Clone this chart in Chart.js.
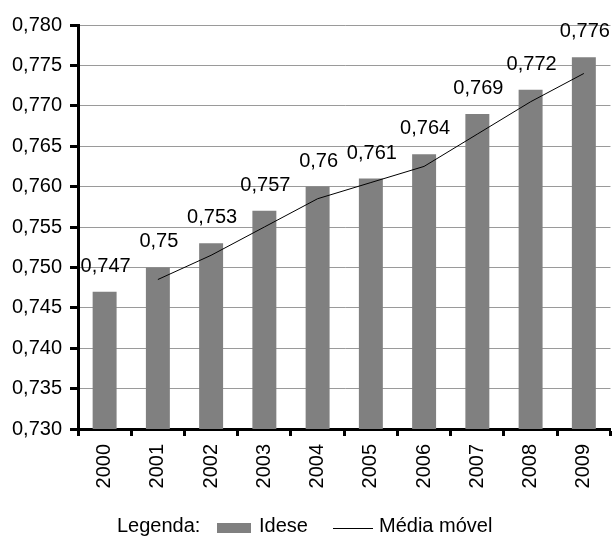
<!DOCTYPE html>
<html>
<head>
<meta charset="utf-8">
<script src="https://cdn.jsdelivr.net/npm/chart.js@4"></script>
<style>
  html, body { margin: 0; padding: 0; background: #fff; }
  #wrap { width: 616px; height: 536px; }
</style>
</head>
<body>
<div id="wrap"><canvas id="c" width="616" height="536"></canvas></div>
<script>
const years = ['2000','2001','2002','2003','2004','2005','2006','2007','2008','2009'];
const idese = [0.747, 0.750, 0.753, 0.757, 0.760, 0.761, 0.764, 0.769, 0.772, 0.776];
const mediaMovel = [null, 0.7485, 0.7515, 0.755, 0.7585, 0.7605, 0.7625, 0.7665, 0.7705, 0.774];
const yMin = 0.730, yMax = 0.780, yStep = 0.005;
const legendTitle = 'Legenda:';
const seriesNames = ['Idese', 'Média móvel'];

const FONT = '"Liberation Sans", Arial, sans-serif';
const fmtComma = (v, dec) => (dec != null ? v.toFixed(dec) : String(v)).replace('.', ',');

const barLabels = {
  id: 'barLabels',
  afterDatasetsDraw(chart) {
    const ctx = chart.ctx;
    const meta = chart.getDatasetMeta(1);
    ctx.save();
    ctx.font = '20px ' + FONT;
    ctx.fillStyle = '#000';
    ctx.textAlign = 'center';
    ctx.textBaseline = 'alphabetic';
    meta.data.forEach((el, i) => {
      ctx.fillText(fmtComma(idese[i]), el.x + 1, el.y - 20);
    });
    ctx.restore();
  }
};

const customLegend = {
  id: 'customLegend',
  afterDraw(chart) {
    const ctx = chart.ctx;
    const base = chart.height - 4;
    ctx.save();
    ctx.font = '20px ' + FONT;
    ctx.fillStyle = '#000';
    ctx.textBaseline = 'alphabetic';
    ctx.textAlign = 'left';
    ctx.fillText(legendTitle, 117, base);
    ctx.fillStyle = '#808080';
    ctx.fillRect(217, base - 9, 34, 10);
    ctx.fillStyle = '#000';
    ctx.fillText(seriesNames[0], 259, base);
    ctx.strokeStyle = '#000';
    ctx.lineWidth = 1;
    ctx.beginPath();
    ctx.moveTo(333, base - 3.5);
    ctx.lineTo(373, base - 3.5);
    ctx.stroke();
    ctx.fillText(seriesNames[1], 379, base);
    ctx.restore();
  }
};

new Chart(document.getElementById('c'), {
  data: {
    labels: years,
    datasets: [
      {
        type: 'line',
        label: seriesNames[1],
        data: mediaMovel,
        borderColor: '#000',
        borderWidth: 1,
        pointRadius: 0,
        tension: 0,
        fill: false,
        spanGaps: false,
        order: 0
      },
      {
        type: 'bar',
        label: seriesNames[0],
        data: idese,
        backgroundColor: '#808080',
        borderWidth: 0,
        barPercentage: 0.45,
        categoryPercentage: 1.0,
        order: 1
      }
    ]
  },
  options: {
    responsive: false,
    animation: false,
    events: [],
    layout: { padding: { left: 0, right: 3, top: 25, bottom: 0 } },
    plugins: {
      legend: { display: false },
      tooltip: { enabled: false }
    },
    scales: {
      x: {
        type: 'category',
        offset: true,
        border: { display: true, color: '#000', width: 3 },
        grid: {
          display: true,
          offset: true,
          drawOnChartArea: false,
          drawTicks: true,
          tickLength: 7,
          tickWidth: 3,
          tickColor: '#000'
        },
        ticks: {
          color: '#000',
          font: { size: 20, family: FONT },
          minRotation: 90,
          maxRotation: 90,
          padding: 8,
          autoSkip: false
        },
        afterFit(scale) { scale.height = 107; }
      },
      y: {
        min: yMin,
        max: yMax,
        border: { display: true, color: '#000', width: 3 },
        grid: {
          color: '#9a9a9a',
          lineWidth: 1,
          drawTicks: true,
          tickLength: 8,
          tickWidth: 3,
          tickColor: '#000'
        },
        ticks: {
          stepSize: yStep,
          color: '#000',
          font: { size: 20, family: FONT },
          padding: 8,
          callback: (v) => fmtComma(v, 3)
        },
        afterFit(scale) { scale.width = 78; }
      }
    }
  },
  plugins: [barLabels, customLegend]
});
</script>
</body>
</html>
